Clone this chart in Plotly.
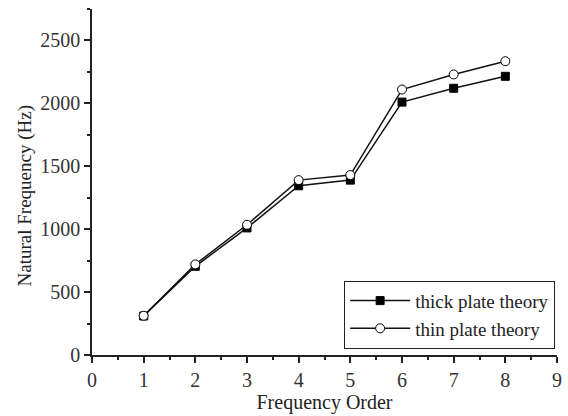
import plotly.graph_objects as go

order = [1, 2, 3, 4, 5, 6, 7, 8]
thick = [310, 705, 1010, 1345, 1390, 2010, 2120, 2215]
thin = [312, 720, 1035, 1390, 1430, 2110, 2230, 2335]

font = "Liberation Serif, Times New Roman, serif"

fig = go.Figure()
fig.add_trace(go.Scatter(
    x=order, y=thick, mode="lines+markers", name="thick plate theory",
    line=dict(color="#111", width=1.5),
    marker=dict(symbol="square", size=8, color="#000", line=dict(color="#000", width=1)),
))
fig.add_trace(go.Scatter(
    x=order, y=thin, mode="lines+markers", name="thin plate theory",
    line=dict(color="#111", width=1.5),
    marker=dict(symbol="circle", size=9, color="white", line=dict(color="#000", width=1)),
))

axis_common = dict(
    showline=True, linecolor="#222", linewidth=1.5, showgrid=False, zeroline=False,
    ticks="outside", ticklen=6, tickwidth=1.5, tickcolor="#222",
    tickfont=dict(family=font, size=20, color="#333"),
    mirror=False,
)
fig.update_xaxes(
    range=[0, 9], dtick=1, tick0=0,
    minor=dict(ticks="outside", ticklen=3, dtick=0.5, tickcolor="#222", tickwidth=1.5),
    title=dict(text="Frequency Order", font=dict(family=font, size=20, color="#222"), standoff=5),
    **axis_common,
)
fig.update_yaxes(
    range=[0, 2750], dtick=500, tick0=0,
    minor=dict(ticks="outside", ticklen=3, dtick=250, tickcolor="#222", tickwidth=1.5),
    **axis_common,
)
fig.add_annotation(
    text="Natural Frequency (Hz)", xref="paper", yref="paper",
    x=-0.142, y=0.461, xanchor="center", yanchor="middle", textangle=-90,
    showarrow=False, font=dict(family=font, size=19, color="#222"),
)
fig.update_layout(
    width=568, height=416,
    margin=dict(l=92, r=6, t=9, b=60),
    plot_bgcolor="white", paper_bgcolor="white",
    legend=dict(
        x=0.996, y=0.018, xanchor="right", yanchor="bottom",
        bgcolor="white", bordercolor="#222", borderwidth=1,
        font=dict(family=font, size=19, color="#222"),
        tracegroupgap=0, itemwidth=60,
    ),
    font=dict(family=font),
)
fig.write_html("out.html")
